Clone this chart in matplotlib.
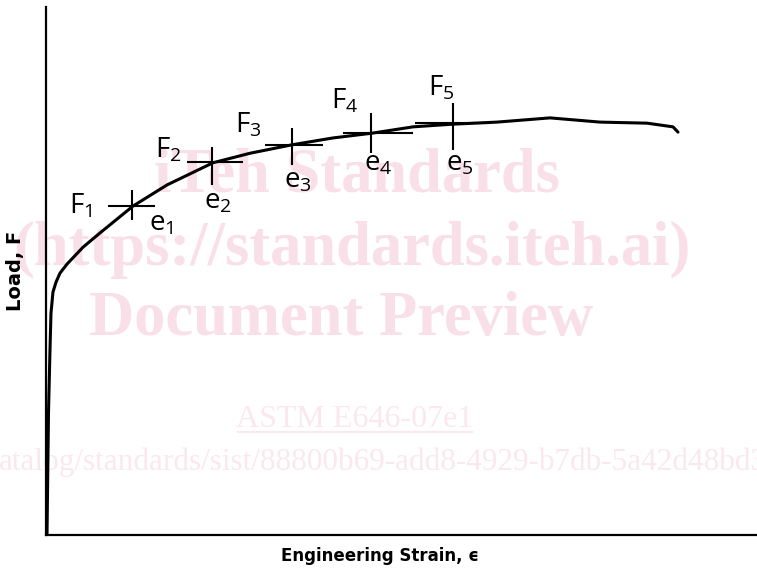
import matplotlib
matplotlib.use("Agg")
import matplotlib.pyplot as plt

plt.rcParams['mathtext.fontset'] = 'custom'
plt.rcParams['mathtext.rm'] = 'Open Sans'
plt.rcParams['mathtext.it'] = 'Open Sans'

# load-strain curve (axis units 0..100)
strain = [0.14, 0.35, 0.56, 0.70, 0.98, 1.41, 1.97, 2.95, 5.20, 7.59, 12.24,
          17.02, 23.49, 28.69, 34.60, 40.37, 45.85, 51.62, 57.10, 63.43,
          70.89, 77.92, 84.53, 88.19, 88.89]
load = [0.0, 23.1, 35.0, 42.0, 46.0, 47.9, 49.6, 51.3, 54.5, 57.2, 62.3,
        66.3, 70.5, 72.3, 73.9, 75.2, 76.1, 77.3, 77.8, 78.2,
        79.0, 78.2, 78.0, 77.3, 76.3]

# marked points F1..F5 / e1..e5
mark_strain = [12.10, 23.35, 34.60, 45.71, 57.24]
mark_load = [62.3, 70.6, 73.9, 76.1, 78.0]
arm_left = [3.38, 3.52, 3.80, 3.94, 5.34]
arm_right = [3.23, 4.36, 4.36, 5.91, 5.20]
arm_down = [2.65, 4.36, 3.79, 3.79, 5.11]
arm_up = [3.03, 2.84, 3.22, 3.79, 3.79]
f_labels = ['F$_1$', 'F$_2$', 'F$_3$', 'F$_4$', 'F$_5$']
e_labels = ['e$_1$', 'e$_2$', 'e$_3$', 'e$_4$', 'e$_5$']

# label offsets in pixels from each mark
f_off = [(-40, -7), (-30, 5), (-30, 12), (-13, 25), (2, 28)]
e_off = [(17, -24), (-8, -46), (-8, -43), (-7, -37), (-7, -47)]

fig = plt.figure(figsize=(7.57, 5.68), dpi=100)
ax = fig.add_axes([46/757, 33/568, 711/757, 528/568])
ax.set_xlim(0, 100)
ax.set_ylim(0, 100)

ax.plot(strain, load, color='black', lw=2.2, solid_capstyle='round', zorder=3)
ax.errorbar(mark_strain, mark_load, xerr=[arm_left, arm_right],
            yerr=[arm_down, arm_up], fmt='none', ecolor='black',
            elinewidth=1.5, capsize=0, zorder=3)

for i in range(len(mark_strain)):
    ax.annotate(f_labels[i], (mark_strain[i], mark_load[i]), xytext=f_off[i],
                textcoords='offset pixels', ha='right', va='baseline',
                fontsize=20, family='Open Sans')
    ax.annotate(e_labels[i], (mark_strain[i], mark_load[i]), xytext=e_off[i],
                textcoords='offset pixels', ha='left', va='baseline',
                fontsize=20, family='Open Sans')

for s in ['top', 'right']:
    ax.spines[s].set_visible(False)
for s in ['left', 'bottom']:
    ax.spines[s].set_linewidth(1.6)
ax.set_xticks([])
ax.set_yticks([])

ax.set_xlabel('Engineering Strain, ϵ', fontsize=12, fontweight='bold',
              family='DejaVu Sans')
ax.xaxis.set_label_coords((380 - 46) / 711, -0.022)
ax.set_ylabel('Load, F', fontsize=14, fontweight='bold', family='DejaVu Sans')
ax.yaxis.set_label_coords(-0.029, 0.5)

# watermark
pink = '#f9dfe7'
pale = '#fbe8ee'
wm = dict(transform=fig.transFigure, clip_on=False, zorder=1,
          family='Liberation Serif', ha='center', va='baseline')
ax.text(357/757, 1 - 192/568, 'iTeh Standards', fontsize=45,
        fontweight='bold', color=pink, **wm)
ax.text(352/757, 1 - 265/568, '(https://standards.iteh.ai)', fontsize=45,
        fontweight='bold', color=pink, **wm)
ax.text(341/757, 1 - 335/568, 'Document Preview', fontsize=45,
        fontweight='bold', color=pink, **wm)
ax.text(355/757, 1 - 427/568, 'ASTM E646-07e1', fontsize=23,
        color=pale, **wm)
ax.plot([238/757, 472/757], [1 - 432/568, 1 - 432/568], color=pale, lw=1.5,
        transform=fig.transFigure, clip_on=False, zorder=1)
wm['ha'] = 'left'
ax.text(-1/757, 1 - 470/568,
        'atalog/standards/sist/88800b69-add8-4929-b7db-5a42d48bd3f3',
        fontsize=22.5, color=pale, **wm)

fig.savefig('out.png', dpi=100)
